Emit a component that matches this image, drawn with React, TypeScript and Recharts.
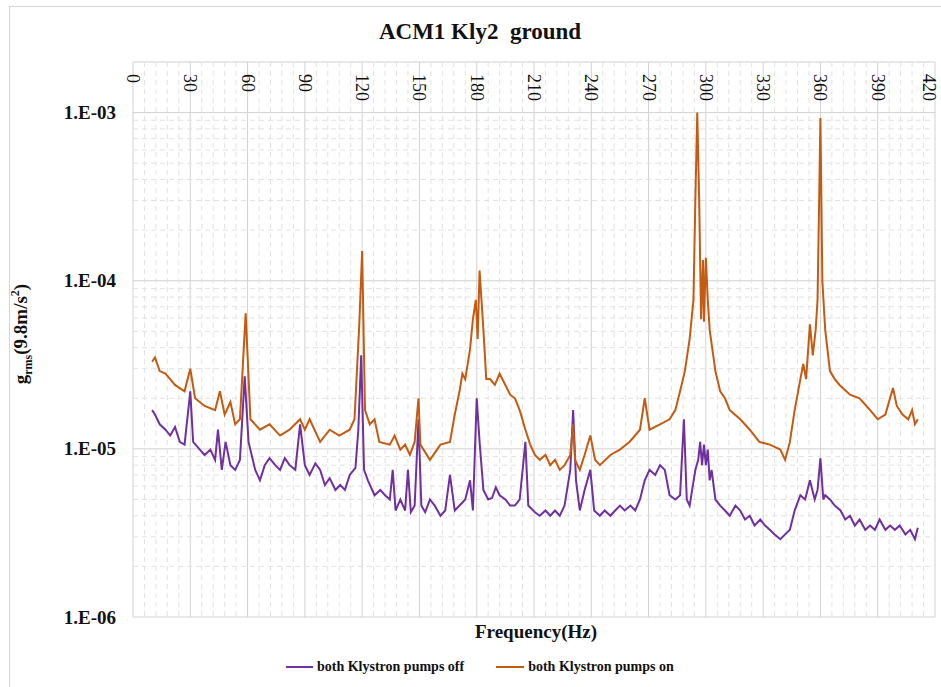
import { LineChart, Line, XAxis, YAxis, CartesianGrid, ReferenceLine } from "recharts";

// Vibration spectrum, ACM1 Kly2 ground sensor
const OFF_COLOR = "#7030A0";
const ON_COLOR = "#C55A11";
const FONT = '"Liberation Serif", "Times New Roman", serif';

const FREQ_TICKS = [0, 30, 60, 90, 120, 150, 180, 210, 240, 270, 300, 330, 360, 390, 420];
const G_TICKS = [1e-6, 1e-5, 1e-4, 1e-3];

// dashed minor lines: every 6 Hz, and 2..9 within each decade
const FREQ_MINOR: number[] = [];
for (let f = 6; f < 420; f += 6) if (f % 30 !== 0) FREQ_MINOR.push(f);
const G_MINOR: number[] = [];
for (const d of [1e-6, 1e-5, 1e-4, 1e-3]) for (let k = 2; k <= 9; k++) if (k * d <= 2e-3) G_MINOR.push(k * d);

// both Klystron pumps off
const offFreq = [
  10, 11.5, 14, 17, 19.5, 22, 24.5, 27, 30, 31.5,
  35, 37.5, 40.5, 43, 44.5, 46.5, 48.5, 51, 53.5, 56,
  58.5, 60.5, 64, 66.5, 69, 71.5, 74.5, 77, 79.5, 82,
  85, 87.5, 90, 92.5, 95.5, 98, 100.5, 103, 106, 108.5,
  111, 113.5, 116.5, 118, 119.5, 121, 123, 126.5, 129.5, 132,
  134.5, 136, 137.5, 140, 142.5, 144, 145.5, 147.5, 149.5, 151,
  153, 155.5, 158, 161, 163.5, 166, 168.5, 171, 174, 176.5,
  178, 180, 181.5, 183.5, 186, 188, 190, 192, 195, 197.5,
  200, 202.5, 205.5, 207, 210.5, 213, 216, 218.5, 221, 223.5,
  226, 229, 230.5, 232, 234, 236.5, 239.5, 241.5, 244.5, 247,
  250, 252.5, 255, 257.5, 260.5, 263, 265.5, 268, 270.5, 273.5,
  276, 278.5, 281, 284, 286.5, 288.5, 290, 291.5, 294.5, 296,
  297, 298, 299, 300, 301, 302, 303, 305, 307.5, 310,
  312.5, 315.5, 318, 320.5, 323, 325.5, 328.5, 331, 333.5, 336,
  339, 341.5, 344, 346.5, 349.5, 352, 354.5, 357, 358.5, 360,
  361.5, 362.5, 365, 367.5, 370.5, 373, 375.5, 378, 380.5, 383.5,
  386, 388.5, 391, 394, 396.5, 399, 401.5, 404.5, 407, 409.5,
  411,
];
const offValue = [
  1.7e-5, 1.6e-5, 1.4e-5, 1.3e-5, 1.2e-5, 1.35e-5, 1.1e-5, 1.06e-5, 2.2e-5, 1.1e-5,
  9.9e-6, 9.2e-6, 9.9e-6, 8.6e-6, 1.3e-5, 7.5e-6, 1.1e-5, 8.0e-6, 7.5e-6, 8.6e-6,
  2.7e-5, 1.1e-5, 7.5e-6, 6.5e-6, 8.0e-6, 8.8e-6, 8.0e-6, 7.5e-6, 8.8e-6, 8.0e-6,
  7.5e-6, 1.4e-5, 8.0e-6, 7.0e-6, 8.2e-6, 7.5e-6, 6.1e-6, 6.7e-6, 5.7e-6, 6.1e-6,
  5.7e-6, 7.0e-6, 7.7e-6, 1.3e-5, 3.6e-5, 7.5e-6, 6.5e-6, 5.3e-6, 5.7e-6, 5.3e-6,
  5.0e-6, 7.5e-6, 4.3e-6, 5.0e-6, 4.3e-6, 7.5e-6, 4.2e-6, 4.6e-6, 1.5e-5, 4.6e-6,
  4.2e-6, 5.0e-6, 4.6e-6, 4.0e-6, 4.3e-6, 7.0e-6, 4.3e-6, 4.6e-6, 5.0e-6, 6.5e-6,
  4.3e-6, 2.0e-5, 1.1e-5, 5.7e-6, 5.0e-6, 5.1e-6, 5.9e-6, 5.3e-6, 5.0e-6, 4.6e-6,
  4.6e-6, 5.0e-6, 1.1e-5, 4.6e-6, 4.2e-6, 4.0e-6, 4.3e-6, 4.0e-6, 4.3e-6, 4.0e-6,
  4.6e-6, 7.5e-6, 1.7e-5, 6.5e-6, 4.3e-6, 5.7e-6, 7.5e-6, 4.3e-6, 4.0e-6, 4.3e-6,
  4.0e-6, 4.3e-6, 4.6e-6, 4.3e-6, 4.6e-6, 4.3e-6, 5.0e-6, 6.5e-6, 7.5e-6, 7.0e-6,
  8.0e-6, 7.5e-6, 5.3e-6, 5.0e-6, 5.3e-6, 1.5e-5, 5.0e-6, 4.6e-6, 7.5e-6, 8.6e-6,
  1.1e-5, 8.0e-6, 1.06e-5, 8.0e-6, 9.9e-6, 6.5e-6, 7.5e-6, 5.0e-6, 4.6e-6, 4.3e-6,
  4.0e-6, 4.6e-6, 4.3e-6, 3.8e-6, 4.0e-6, 3.5e-6, 3.8e-6, 3.5e-6, 3.3e-6, 3.1e-6,
  2.9e-6, 3.1e-6, 3.3e-6, 4.3e-6, 5.3e-6, 5.0e-6, 6.5e-6, 5.0e-6, 5.7e-6, 8.8e-6,
  5.0e-6, 5.3e-6, 5.0e-6, 4.6e-6, 4.3e-6, 3.8e-6, 4.0e-6, 3.5e-6, 3.8e-6, 3.3e-6,
  3.5e-6, 3.3e-6, 3.8e-6, 3.3e-6, 3.5e-6, 3.3e-6, 3.5e-6, 3.1e-6, 3.3e-6, 2.9e-6,
  3.4e-6,
];

// both Klystron pumps on
const onFreq = [
  10, 11.5, 14, 17, 22, 27, 30, 32.5, 37.5, 43,
  45.5, 48, 51, 53.5, 56, 59, 61.5, 66.5, 71.5, 77,
  82, 87.5, 90, 92.5, 98, 103, 108, 113.5, 116, 118.5,
  120, 121.5, 124, 126.5, 129, 134.5, 137, 140, 142.5, 145,
  147.5, 149.5, 150.5, 155.5, 161, 166, 168.5, 171, 172.5, 174,
  176.5, 178, 179.5, 180.5, 181.5, 183.5, 185, 187, 189.5, 192,
  195, 197.5, 200, 202.5, 205.5, 208, 210.5, 213, 216, 218.5,
  221, 223.5, 226, 229, 230.5, 231.5, 234, 236.5, 239.5, 242,
  244.5, 250, 255, 260, 265.5, 268, 270.5, 276, 281, 284,
  286.5, 289, 291.5, 293.5, 294.5, 295.5, 296.5, 297.5, 298.5, 299,
  300, 301, 302, 305, 307.5, 310, 312.5, 318, 323, 328,
  333.5, 339, 341.5, 344, 346.5, 349.5, 351, 352.5, 354.5, 356,
  357.5, 358.5, 360, 361, 362.5, 365, 367.5, 370, 375.5, 380.5,
  386, 390, 394, 398, 400, 403, 406, 408, 409.5, 411,
];
const onValue = [
  3.3e-5, 3.5e-5, 2.9e-5, 2.8e-5, 2.4e-5, 2.2e-5, 3.0e-5, 2.0e-5, 1.8e-5, 1.7e-5,
  2.2e-5, 1.6e-5, 1.9e-5, 1.4e-5, 1.5e-5, 6.4e-5, 1.5e-5, 1.3e-5, 1.4e-5, 1.2e-5,
  1.3e-5, 1.5e-5, 1.3e-5, 1.5e-5, 1.1e-5, 1.3e-5, 1.2e-5, 1.3e-5, 1.5e-5, 5.5e-5,
  1.5e-4, 1.7e-5, 1.4e-5, 1.5e-5, 1.1e-5, 1.06e-5, 1.2e-5, 9.9e-6, 1.06e-5, 9.2e-6,
  1.1e-5, 2.0e-5, 1.06e-5, 8.6e-6, 1.06e-5, 1.1e-5, 1.6e-5, 2.2e-5, 2.8e-5, 2.6e-5,
  3.9e-5, 5.9e-5, 7.7e-5, 4.5e-5, 1.15e-4, 5.1e-5, 2.6e-5, 2.6e-5, 2.4e-5, 2.8e-5,
  2.4e-5, 2.1e-5, 2.0e-5, 1.7e-5, 1.3e-5, 1.06e-5, 9.2e-6, 8.6e-6, 9.2e-6, 8.0e-6,
  8.6e-6, 7.5e-6, 8.0e-6, 9.2e-6, 1.4e-5, 8.6e-6, 7.5e-6, 9.2e-6, 1.2e-5, 8.6e-6,
  8.0e-6, 9.2e-6, 9.9e-6, 1.1e-5, 1.3e-5, 2.0e-5, 1.3e-5, 1.4e-5, 1.5e-5, 1.7e-5,
  2.2e-5, 2.9e-5, 4.5e-5, 7.7e-5, 3.0e-4, 1.0e-3, 3.0e-4, 5.9e-5, 1.33e-4, 5.7e-5,
  1.37e-4, 7.7e-5, 5.1e-5, 2.9e-5, 2.2e-5, 2.0e-5, 1.7e-5, 1.5e-5, 1.3e-5, 1.1e-5,
  1.06e-5, 9.9e-6, 8.6e-6, 1.1e-5, 1.7e-5, 2.6e-5, 3.2e-5, 2.6e-5, 5.5e-5, 3.6e-5,
  5.1e-5, 7.7e-5, 9.3e-4, 1.0e-4, 5.1e-5, 2.9e-5, 2.6e-5, 2.4e-5, 2.1e-5, 2.0e-5,
  1.7e-5, 1.5e-5, 1.6e-5, 2.3e-5, 1.8e-5, 1.6e-5, 1.5e-5, 1.7e-5, 1.4e-5, 1.5e-5,
];

const offData = offFreq.map((f, i) => ({ f, v: offValue[i] }));
const onData = onFreq.map((f, i) => ({ f, v: onValue[i] }));

const PLOT_TOP = 62;

const fmtExp = (v: number) => {
  const e = Math.round(Math.log10(v));
  return `1.E-${String(-e).padStart(2, "0")}`;
};

const FreqTick = (props: any) => {
  const { x, payload } = props;
  return (
    <text
      x={x}
      y={PLOT_TOP + 12}
      transform={`rotate(90, ${x}, ${PLOT_TOP + 12})`}
      textAnchor="start"
      dominantBaseline="central"
      fontFamily={FONT}
      fontSize={18}
      fill="#111"
    >
      {payload.value}
    </text>
  );
};

const GTick = (props: any) => {
  const { x, y, payload } = props;
  return (
    <text x={x} y={y} textAnchor="end" dominantBaseline="central" fontFamily={FONT} fontSize={19} fontWeight="bold" fill="#111">
      {fmtExp(payload.value)}
    </text>
  );
};

export default function App() {
  return (
    <div style={{ position: "absolute", left: 0, top: 0, width: 941, height: 687, background: "#fff", fontFamily: FONT, overflow: "hidden" }}>
      <div style={{ position: "absolute", left: 9, top: 6, width: 960, height: 720, border: "1px solid #d6d6d6", boxSizing: "border-box" }} />
      <div style={{ position: "absolute", left: 0, top: 0 }}>
        <LineChart width={941} height={687} data={onData} margin={{ top: 32, right: 6, bottom: 70, left: 0 }}>
          <CartesianGrid stroke="#d2d2d2" />
          {FREQ_MINOR.map((f) => (
            <ReferenceLine key={`vx${f}`} x={f} stroke="#e2e2e2" strokeDasharray="5 4" />
          ))}
          {G_MINOR.map((g) => (
            <ReferenceLine key={`hy${g}`} y={g} stroke="#e2e2e2" strokeDasharray="5 4" />
          ))}
          <XAxis
            dataKey="f"
            type="number"
            orientation="top"
            domain={[0, 420]}
            ticks={FREQ_TICKS}
            height={30}
            axisLine={false}
            tickLine={false}
            tick={<FreqTick />}
            allowDataOverflow
          />
          <YAxis
            type="number"
            scale="log"
            domain={[1e-6, 2e-3]}
            ticks={G_TICKS}
            width={133}
            axisLine={false}
            tickLine={false}
            tickSize={0}
            tickMargin={17}
            tick={<GTick />}
            allowDataOverflow
          />
          <Line data={offData} dataKey="v" name="both Klystron pumps off" stroke={OFF_COLOR} strokeWidth={2} dot={false} isAnimationActive={false} />
          <Line data={onData} dataKey="v" name="both Klystron pumps on" stroke={ON_COLOR} strokeWidth={2} dot={false} isAnimationActive={false} />
        </LineChart>
      </div>

      <div style={{ position: "absolute", left: 480, top: 32, transform: "translate(-50%, -50%)", fontWeight: "bold", fontSize: 23, whiteSpace: "pre", color: "#111" }}>
        {"ACM1 Kly2  ground"}
      </div>

      <div style={{ position: "absolute", left: 22, top: 334, transform: "translate(-50%, -50%) rotate(-90deg)", whiteSpace: "nowrap", fontWeight: "bold", fontSize: 19, color: "#111" }}>
        g<sub style={{ fontSize: 12 }}>rms</sub>(9.8m/s<sup style={{ fontSize: 12 }}>2</sup>)
      </div>

      <div style={{ position: "absolute", left: 536, top: 632, transform: "translate(-50%, -50%)", whiteSpace: "nowrap", fontWeight: "bold", fontSize: 19, color: "#111" }}>
        Frequency(Hz)
      </div>

      <div style={{ position: "absolute", left: 286, top: 659, display: "flex", alignItems: "center", fontWeight: "bold", fontSize: 14, color: "#111", whiteSpace: "nowrap" }}>
        <span style={{ display: "inline-block", width: 27, height: 2, background: OFF_COLOR, marginRight: 4 }} />
        <span>both Klystron pumps off</span>
        <span style={{ display: "inline-block", width: 28, height: 2, background: ON_COLOR, marginLeft: 32, marginRight: 4 }} />
        <span>both Klystron pumps on</span>
      </div>
    </div>
  );
}
